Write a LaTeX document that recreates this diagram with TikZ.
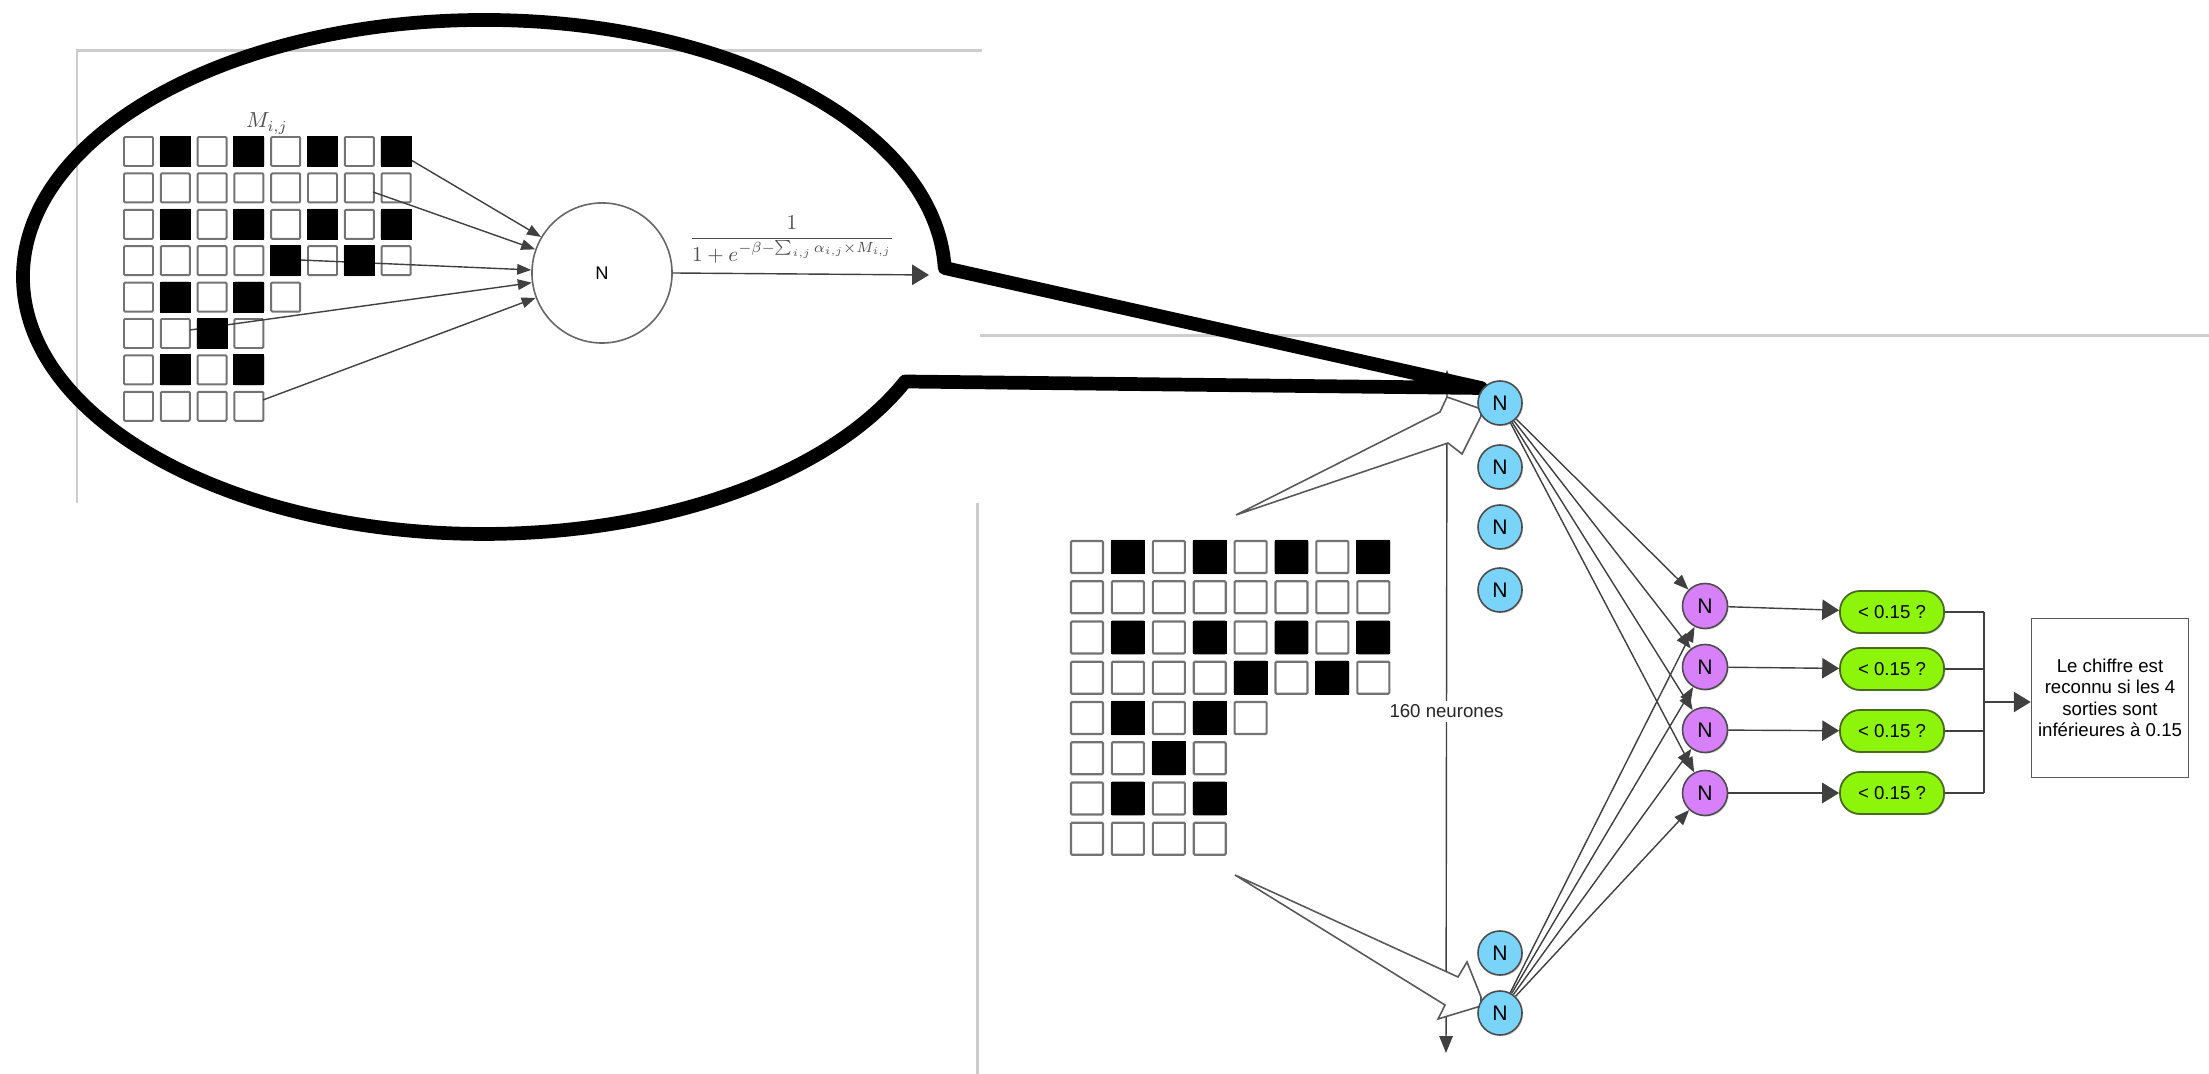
\documentclass[tikz,border=0pt]{standalone}
\usepackage{fontspec}
\usepackage{amsmath}
\newfontfamily\hv{Liberation Sans}
\usetikzlibrary{arrows.meta,shadows}

\definecolor{neurblue}{RGB}{122,212,250}
\definecolor{neurpurple}{RGB}{216,128,250}
\definecolor{testgreen}{RGB}{140,245,10}
\definecolor{testedge}{RGB}{75,105,35}
\definecolor{framegray}{RGB}{205,205,205}

\begin{document}
\begin{tikzpicture}[x=0.01cm,y=-0.01cm,
  frame/.style={framegray, line width=0.85pt},
  cellw/.style={draw=black!55, fill=white, line width=0.55pt, rounded corners=0.3pt},
  cellb/.style={draw=black, fill=black, line width=0.55pt},
  wire/.style={black!75, line width=0.4pt},
  smalltip/.style={-{Triangle[length=4pt,width=3pt]}},
  midtip/.style={-{Triangle[length=4.3pt,width=3.3pt]}},
  bigtip/.style={-{Triangle[length=4.8pt,width=5.8pt]}},
  neuron/.style={circle, draw=black!70, line width=0.45pt, minimum size=0.44cm, inner sep=0pt,
    font=\hv\fontsize{6}{7}\selectfont,
    drop shadow={shadow xshift=0.35pt, shadow yshift=-0.35pt, opacity=0.3}},
  hidden/.style={neuron, fill=neurblue},
  outneuron/.style={neuron, fill=neurpurple, minimum size=0.45cm},
  test/.style={rectangle, rounded corners=0.2cm, draw=testedge, fill=testgreen, line width=0.5pt,
    minimum width=1.04cm, minimum height=0.42cm, inner sep=0pt,
    font=\hv\fontsize{5.3}{6}\selectfont,
    drop shadow={shadow xshift=0.35pt, shadow yshift=-0.35pt, opacity=0.3}},
  hollow/.style={draw=black!65, fill=white, line width=0.45pt, line join=miter}
]
\useasboundingbox (0,0) rectangle (2209,1074);

% borders of the two screenshots
\draw[frame] (77,503) -- (77,51) -- (982,51);
\draw[frame] (980,336) -- (2209,336);
\draw[frame] (977,503) -- (977,1074);

% ---------- single neuron detail ----------
\node[circle, draw=black!60, line width=0.45pt, fill=white, minimum size=1.40cm, inner sep=0pt,
  font=\hv\fontsize{5.2}{6}\selectfont] (n0) at (602,273) {N};

\foreach \row/\last in {0/7,1/7,2/7,3/7,4/4,5/3,6/3,7/3}
  \foreach \col in {0,...,\last}
    \draw[cellw] ({124+36.8*\col},{137+36.4*\row}) rectangle ++(29,29);

\coordinate (s1) at (411,160);
\coordinate (s2) at (373,192);
\coordinate (s3) at (300,260);
\coordinate (s4) at (190,330);
\coordinate (s5) at (263,400);
\foreach \s in {s1,s2,s3,s4,s5}
  \draw[wire, smalltip] (\s) -- (n0);

\foreach \row/\col in {0/1,0/3,0/5,0/7,2/1,2/3,2/5,2/7,3/4,3/6,4/1,4/3,5/2,6/1,6/3}
  \draw[cellb] ({124+36.8*\col},{137+36.4*\row}) rectangle ++(29,29);

\node[anchor=base, text=black!70, font=\fontsize{10}{12}\selectfont, scale=0.62] (mlab) at (267,128) {$M_{i,j}$};

\coordinate (out) at (929,275);
\draw[wire, bigtip] (n0.east) -- (out);
\node[anchor=base, text=black!70, font=\fontsize{10}{12}\selectfont, scale=0.6] (sigm) at (792,243.3)
  {$\dfrac{1}{1+e^{-\beta-\sum_{i,j}\alpha_{i,j}\times M_{i,j}}}$};

% ---------- full network ----------
\foreach \row/\last in {0/7,1/7,2/7,3/7,4/4,5/3,6/3,7/3}
  \foreach \col in {0,...,\last}
    \draw[cellw, line width=0.6pt] ({1071+40.9*\col},{541+40.25*\row}) rectangle ++(32,32);
\foreach \row/\col in {0/1,0/3,0/5,0/7,2/1,2/3,2/5,2/7,3/4,3/6,4/1,4/3,5/2,6/1,6/3}
  \draw[cellb] ({1071+40.9*\col},{541+40.25*\row}) rectangle ++(32,32);

% size of the hidden layer
\coordinate (vt) at (1447,370);
\coordinate (vb) at (1446,1053);
\draw[wire, {Triangle[length=4.8pt,width=3.8pt]}-{Triangle[length=4.8pt,width=3.8pt]}] (vt) -- (vb)
  node[pos=0.5, fill=white, inner sep=1pt, text=black!85, font=\hv\fontsize{5.3}{6}\selectfont] (cnt) {160 neurones};

% the grid feeds the first and the last hidden neuron
\coordinate (ta) at (1236,515);
\coordinate (tb) at (1235,875);
\draw[hollow] (ta) -- (1440,412) -- (1447,397) -- (1481,409) -- (1481,416) -- (1462,454) -- (1448,443) -- cycle;
\draw[hollow] (tb) -- (1458,977) -- (1467,962) -- (1481,997) -- (1481,1006) -- (1438,1019) -- (1445,1005) -- cycle;

% zoom callout
\draw[line width=3.9pt, line join=round] (944.7,268)
  arc[start angle=-2, end angle=-336, x radius=461, y radius=257] -- (1481,388) -- cycle;

% hidden layer
\node[hidden] (b1) at (1500,403) {N};
\node[hidden] (b2) at (1500,467) {N};
\node[hidden] (b3) at (1500,527) {N};
\node[hidden] (b4) at (1500,590) {N};
\node[hidden] (b5) at (1500,953) {N};
\node[hidden] (b6) at (1500,1013) {N};

% output layer
\node[outneuron] (p1) at (1705,606) {N};
\node[outneuron] (p2) at (1705,667) {N};
\node[outneuron] (p3) at (1705,730) {N};
\node[outneuron] (p4) at (1705,793) {N};

% threshold tests
\node[test] (g1) at (1892,612) {< 0.15 ?};
\node[test] (g2) at (1892,669) {< 0.15 ?};
\node[test] (g3) at (1892,731) {< 0.15 ?};
\node[test] (g4) at (1892,793) {< 0.15 ?};

\node[draw=black!65, line width=0.45pt, fill=white, minimum width=1.57cm, minimum height=1.59cm,
  align=center, inner sep=1pt, font=\hv\fontsize{5.3}{6.1}\selectfont] (res) at (2110,698)
  {Le chiffre est\\reconnu si les 4\\sorties sont\\inférieures à 0.15};

\foreach \i in {1,...,4} {
  \draw[wire, midtip] (b1) -- (p\i);
  \draw[wire, midtip] (b6) -- (p\i);
  \draw[wire, bigtip] (p\i) -- (g\i);
}

\coordinate (cmid) at (1984,702);
\foreach \i in {1,...,4}
  \draw[wire] (g\i.east) -- (g\i.east -| cmid);
\draw[wire] (g1.east -| cmid) -- (g4.east -| cmid);
\draw[wire, bigtip] (cmid) -- (cmid -| res.west);
\end{tikzpicture}
\end{document}
